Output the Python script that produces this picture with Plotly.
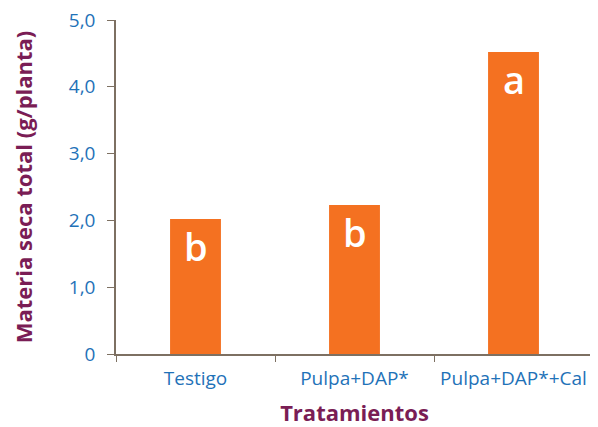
import plotly.graph_objects as go

# data
tratamientos = ["Testigo", "Pulpa+DAP*", "Pulpa+DAP*+Cal"]
materia_seca = [2.02, 2.23, 4.52]
letras = ["b", "b", "a"]

y_ticks = [0, 1, 2, 3, 4, 5]
y_tick_labels = ["0", "1,0", "2,0", "3,0", "4,0", "5,0"]

ORANGE = "#f47121"
BLUE = "#1f72b8"
PURPLE = "#7a1d55"
AXIS = "#7d7062"

fig = go.Figure()
fig.add_trace(go.Bar(
    x=tratamientos,
    y=materia_seca,
    marker_color=ORANGE,
    marker_line_width=0,
    width=0.32,
))

# significance letters just under the top of each bar
for cat, val, letra in zip(tratamientos, materia_seca, letras):
    fig.add_annotation(
        x=cat, y=val, text=letra, showarrow=False,
        yanchor="top", yshift=1,
        font=dict(family="Open Sans", size=38, color="white", weight=600),
    )

# the page body adds 8px on the left/top, margins compensate for it
fig.update_layout(
    width=598, height=427,
    margin=dict(l=108, r=13, t=12, b=81),
    plot_bgcolor="white",
    paper_bgcolor="white",
    showlegend=False,
    font=dict(family="Open Sans"),
)

fig.update_xaxes(
    range=[-0.5, 2.5],
    showline=True, linecolor=AXIS, linewidth=1.5,
    ticks="outside", tickson="boundaries", ticklen=6, tickcolor=AXIS,
    ticklabelstandoff=6, ticklabeloverflow="allow",
    tickfont=dict(size=19, color=BLUE),
    title=dict(text="<b>Tratamientos</b>", font=dict(size=22, color=PURPLE), standoff=16),
    showgrid=False, automargin=False,
)

fig.update_yaxes(
    range=[0, 5],
    tickvals=y_ticks, ticktext=y_tick_labels,
    showline=True, linecolor=AXIS, linewidth=1.5,
    ticks="outside", ticklen=7, tickcolor=AXIS,
    ticklabelstandoff=8, ticklabeloverflow="allow",
    tickfont=dict(size=19, color=BLUE),
    title=dict(text="<b>Materia seca total (g/planta)</b>", font=dict(size=22, color=PURPLE), standoff=30),
    showgrid=False, zeroline=False, automargin=False,
)

fig.write_html("out.html")
